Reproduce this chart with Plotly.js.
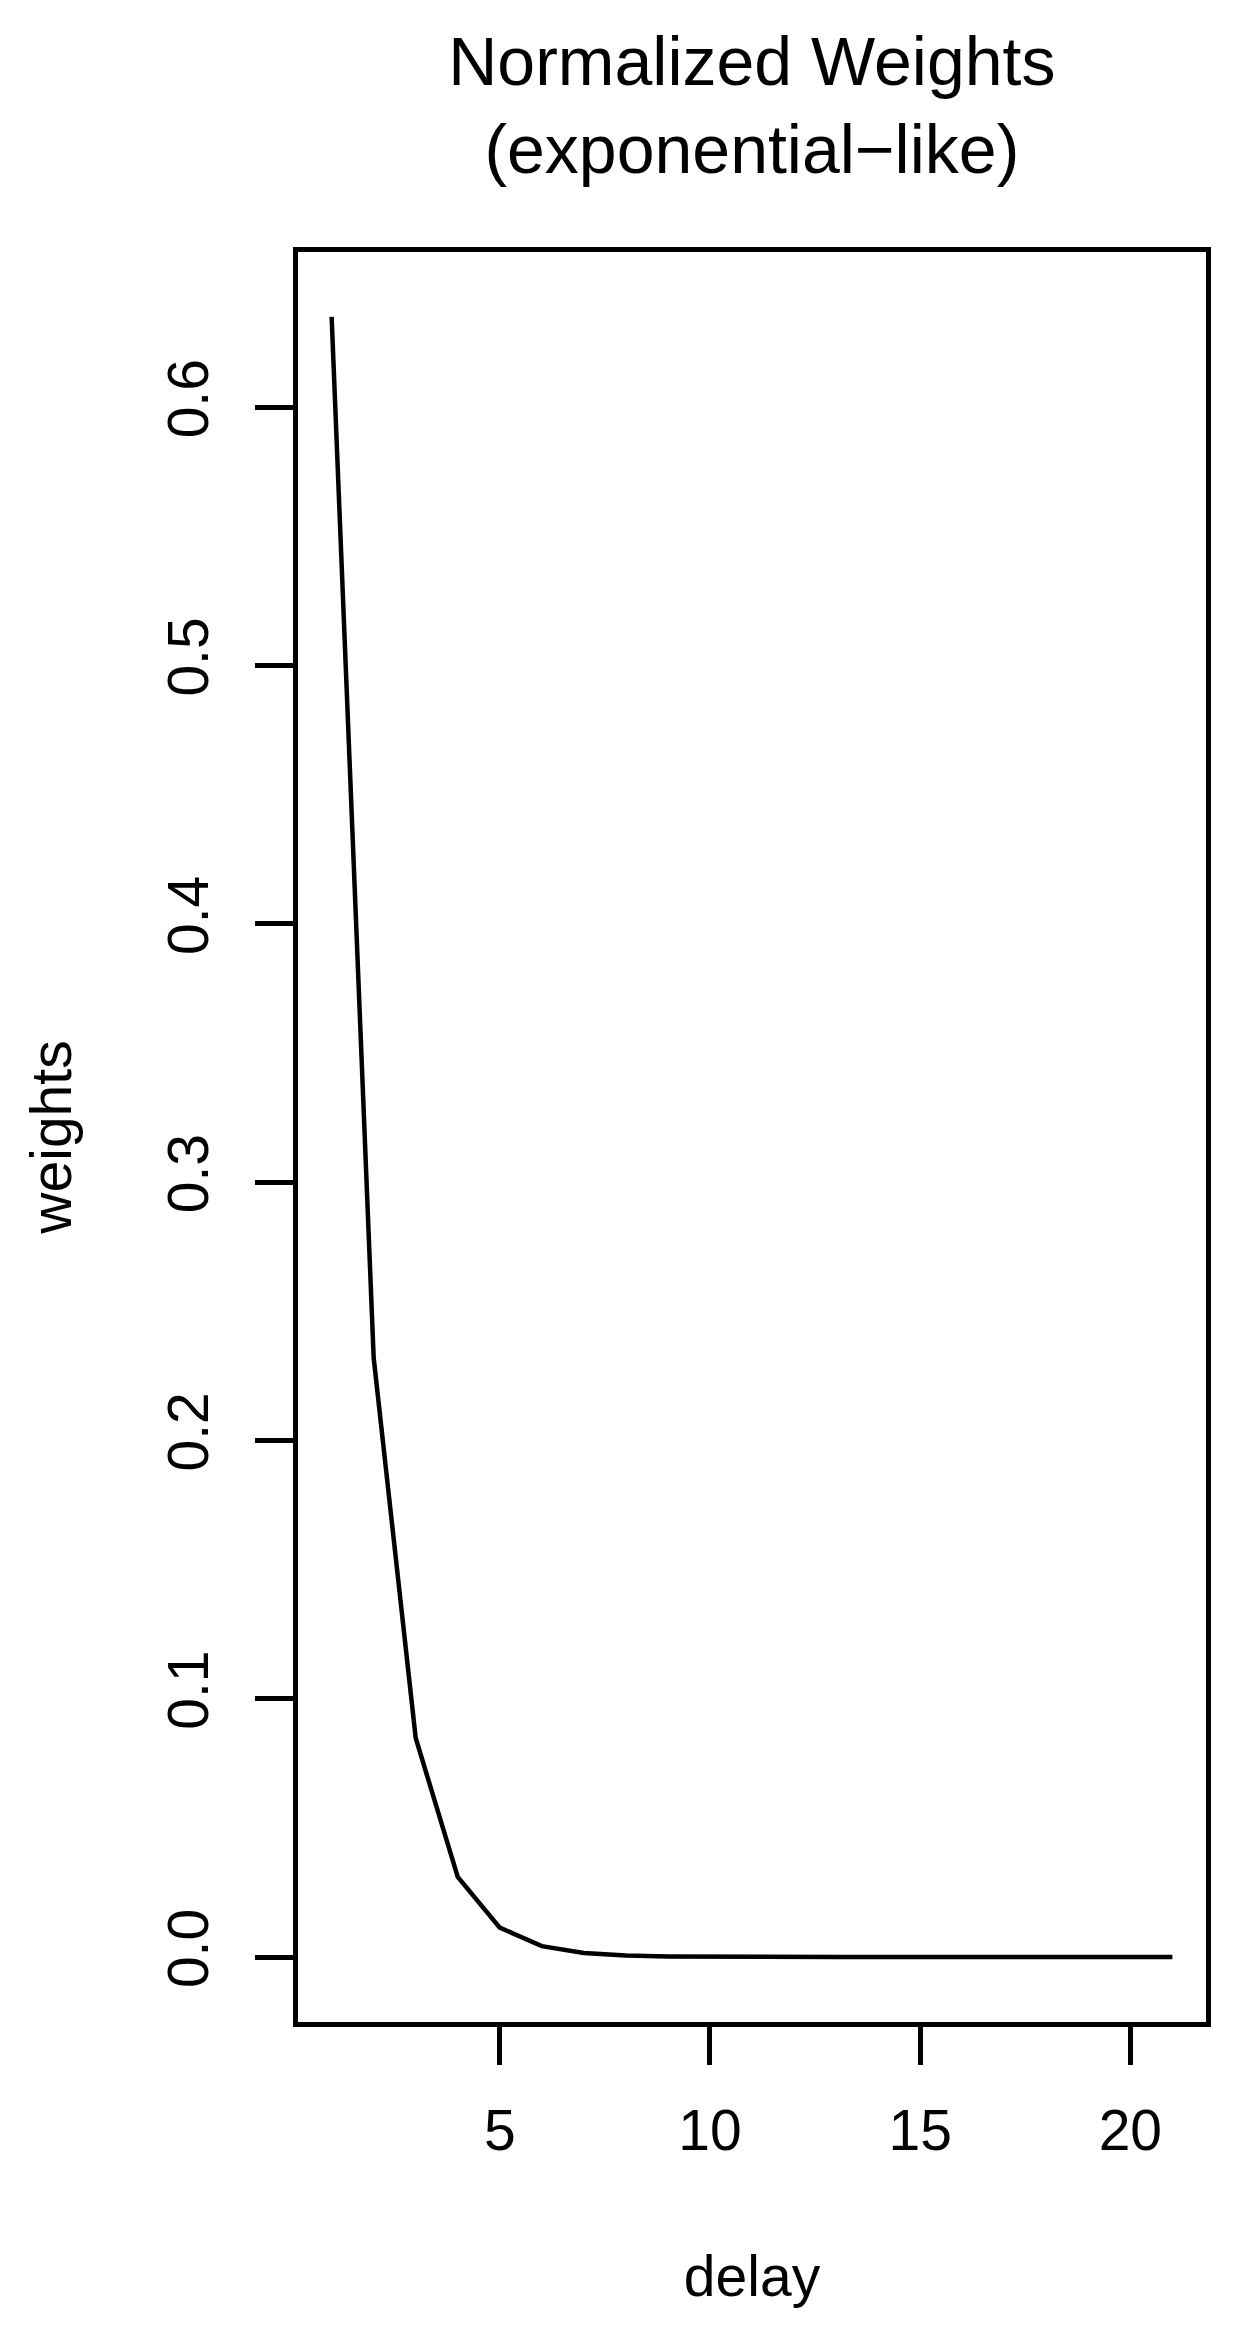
<!DOCTYPE html>
<html>
<head>
<meta charset="utf-8">
<script src="https://cdn.plot.ly/plotly-3.0.1.min.js"></script>
<style>
  html, body { margin: 0; padding: 0; background: #fff; }
  #chart { width: 1251px; height: 2327px; }
</style>
</head>
<body>
<div id="chart"></div>
<script>
var delay = [1, 2, 3, 4, 5, 6, 7, 8, 9, 10, 11, 12, 13, 14, 15, 16, 17, 18, 19, 20, 21];
var weights = [0.635, 0.232, 0.0848, 0.031, 0.0114, 0.0042, 0.00155, 0.00057, 0.00021, 0.00008,
               0.00003, 0.00001, 0, 0, 0, 0, 0, 0, 0, 0, 0];
var xTicks = [5, 10, 15, 20];
var yTicks = [0, 0.1, 0.2, 0.3, 0.4, 0.5, 0.6];
var yTickText = ["0.0", "0.1", "0.2", "0.3", "0.4", "0.5", "0.6"];

var FONT = "Liberation Sans, Arial, Helvetica, sans-serif";

var data = [
  {
    type: 'scatter',
    mode: 'lines',
    x: delay,
    y: weights,
    line: { color: '#000', width: 4.5 },
    hoverinfo: 'skip'
  }
];

var axisStyle = {
  showgrid: false,
  zeroline: false,
  showline: true,
  mirror: true,
  linecolor: '#000',
  linewidth: 5,
  ticks: 'outside',
  ticklen: 38,
  tickwidth: 5,
  tickcolor: '#000',
  tickfont: { family: FONT, size: 57, color: '#000' }
};

var layout = {
  width: 1251,
  height: 2327,
  paper_bgcolor: '#fff',
  plot_bgcolor: '#fff',
  showlegend: false,
  margin: { l: 298, r: 45, t: 252, b: 305 },
  font: { family: FONT, color: '#000' },
  title: {
    text: "Normalized Weights<br>(exponential\u2212like)",
    font: { family: FONT, size: 68, color: '#000' },
    x: 0.601, xanchor: 'center',
    y: 1 - 85 / 2327, yanchor: 'middle'
  },
  xaxis: Object.assign({}, axisStyle, {
    range: [0.2, 21.8],
    tickvals: xTicks,
    ticktext: xTicks.map(String),
    ticklabelstandoff: 17,
    title: { text: "delay", font: { family: FONT, size: 57, color: '#000' }, standoff: 96 }
  }),
  yaxis: Object.assign({}, axisStyle, {
    range: [-0.02516, 0.6601],
    tickvals: yTicks,
    ticktext: yTickText,
    tickangle: -90,
    ticklabelstandoff: 24,
    title: { text: "weights", font: { family: FONT, size: 57, color: '#000' }, standoff: 68 }
  })
};

Plotly.newPlot(document.getElementById('chart'), data, layout, { displaylogo: false, staticPlot: true });
</script>
</body>
</html>
